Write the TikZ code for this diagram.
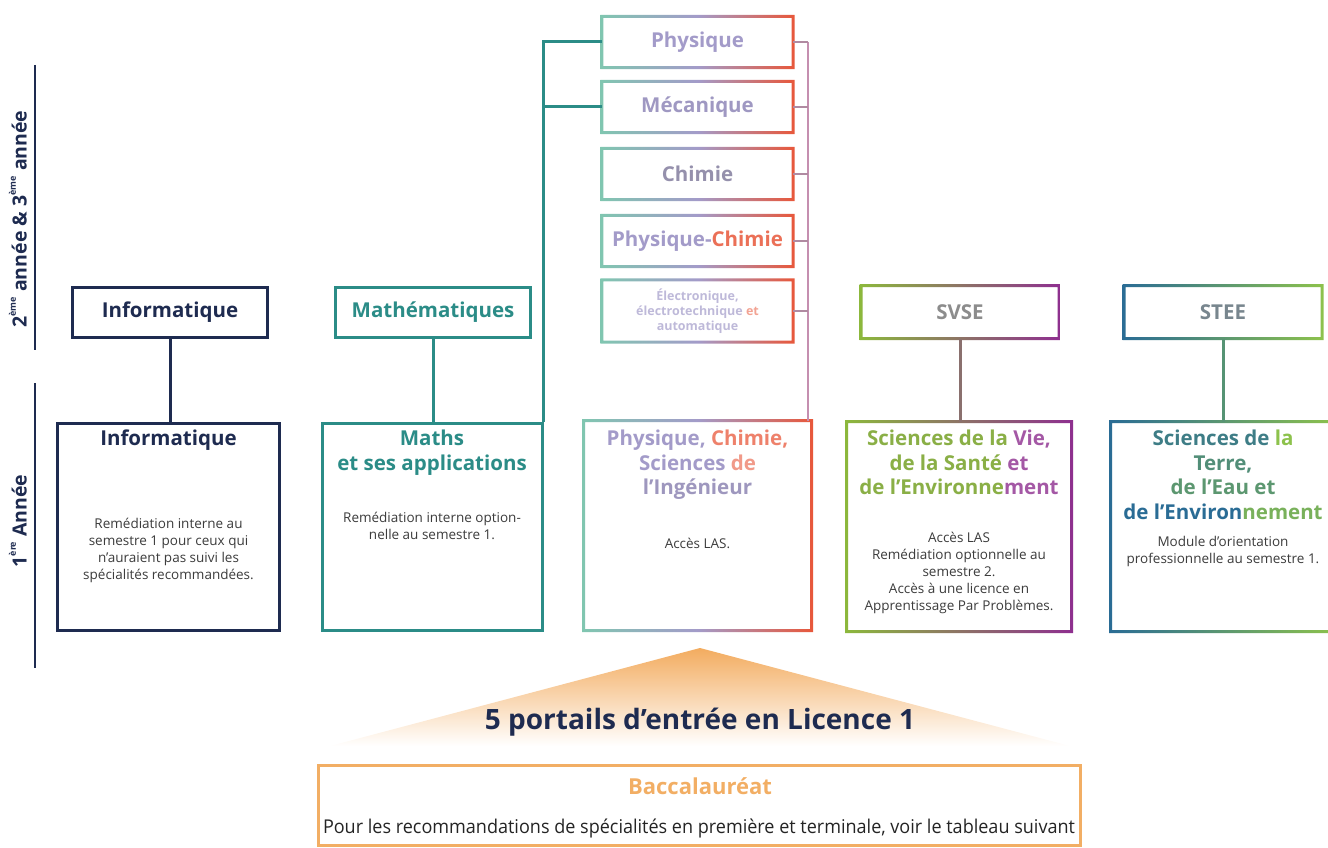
\documentclass[tikz,border=0pt]{standalone}
\usepackage{fontspec}
\setmainfont{Open Sans}
\usepackage{graphicx}
\usetikzlibrary{positioning,calc}

\definecolor{navy}{HTML}{1E2B50}
\definecolor{mathteal}{HTML}{2B8C87}
\definecolor{phgreen}{HTML}{80C6B0}
\definecolor{phlav}{HTML}{A39BC9}
\definecolor{phred}{HTML}{E8573A}
\definecolor{phline}{HTML}{C58FB0}
\definecolor{svgreen}{HTML}{8CB83C}
\definecolor{svpurple}{HTML}{8E2F8F}
\definecolor{stblue}{HTML}{2A6C95}
\definecolor{stgreen}{HTML}{8DC24C}
\definecolor{bacorange}{HTML}{F2AE64}
\definecolor{bodygray}{HTML}{3C3C3C}
\definecolor{titlegray}{HTML}{8C8C8C}

\newcommand\boxtitle{\fontsize{20.5}{24.5}\bfseries\selectfont}
\newcommand\boxbody{\fontsize{13.5}{17}\selectfont}
\newcommand\yrsup[1]{\raisebox{0.55em}{\fontsize{9}{9}\selectfont #1}}

% frame with a colour running from left to right
\newcommand\gradframe[4]{%
  \shade[even odd rule,left color=#2,right color=#4,middle color=#3]
    ([shift={(-1.5,1.5)}]#1.south west) rectangle ([shift={(1.5,-1.5)}]#1.north east)
    ([shift={(1.5,-1.5)}]#1.south west) rectangle ([shift={(-1.5,1.5)}]#1.north east);}

\tikzset{
  boxframe/.style={line width=3pt,inner sep=0pt,fill=white},
  topbox/.style={boxframe,minimum width=195pt,minimum height=50pt,font=\boxtitle},
  lonebox/.style={boxframe,minimum width=222pt,minimum height=207pt},
  physbox/.style={inner sep=0pt,minimum width=191pt,minimum height=51pt,font=\boxtitle},
  ttl/.style={anchor=north,align=center,font=\boxtitle,inner sep=0pt},
  bdy/.style={align=center,font=\boxbody,text=bodygray,inner sep=0pt},
  link/.style={line width=3pt},
  yearlbl/.style={rotate=90,font=\fontsize{19.5}{22}\bfseries\selectfont,text=navy}
}

\begin{document}
\begin{tikzpicture}[x=1pt,y=-1pt]
\useasboundingbox (0,0) rectangle (1328,848);

% years on the left
\draw[navy,line width=2pt] (35,65) -- (35,350);
\node[yearlbl] (yr23) at (18,219) {2\yrsup{ème} année \& 3\yrsup{ème} année};
\draw[navy,line width=2pt] (35,383) -- (35,668);
\node[yearlbl] (yr1) at (18,521) {1\yrsup{ère} Année};

% second and third year
\node[topbox,draw=navy,text=navy] (infotop) at (170,312) {Informatique};
\node[topbox,draw=mathteal,text=mathteal] (mathtop) at (433,312) {Mathématiques};
\node[topbox,text=titlegray] (svsetop) at (960,312) {SVSE};
\node[topbox,text=titlegray!80!stblue] (steetop) at (1223,312) {STEE};

\node[physbox,text=phlav] (physique) at (697.5,42) {Physique};
\node[physbox,text=phlav!90!gray] (meca) at (697.5,107) {Mécanique};
\node[physbox,text=phlav!60!gray] (chimie) at (697.5,174) {Chimie};
\node[physbox] (phch) at (697.5,241) {\textcolor{phlav}{Physique-}\textcolor{phred!85!white}{Chimie}};
\node[physbox,minimum height=62pt,align=center,font=\fontsize{12.5}{15}\bfseries\selectfont,text=phlav!70!white] (elec) at (697.5,311)
  {Électronique,\\électrotechnique \textcolor{phred!55!white}{et}\\automatique};

% first year
\node[lonebox,draw=navy] (info) at (168.5,526.5) {};
\node[lonebox,minimum width=220pt,draw=mathteal] (maths) at (432,526.5) {};
\node[lonebox,minimum width=225pt] (pcsi) at (697.5,525.5) {};
\node[lonebox] (svse) at (959,526.5) {};
\node[lonebox] (stee) at (1223,526.5) {};

\node[ttl,text=navy] (infottl) at (168.5,430) {Informatique};
\node[bdy] (infobdy) at (168.5,550) {Remédiation interne au\\semestre 1 pour ceux qui\\n’auraient pas suivi les\\spécialités recommandées.};
\node[ttl,text=mathteal] (mathsttl) at (432,430) {Maths\\et ses applications};
\node[bdy] (mathsbdy) at (432,526) {Remédiation interne option-\\nelle au semestre 1.};
\node[ttl] (pcsittl) at (697.5,430) {\textcolor{phlav}{Physique,} \textcolor{phred!75!white}{Chimie,}\\
  \textcolor{phlav}{Sciences} \textcolor{phred!60!white}{de}\\\textcolor{phlav!85!gray}{l’Ingénieur}};
\node[bdy] (pcsibdy) at (697.5,543) {Accès LAS.};
\node[ttl] (svsettl) at (959,430) {\textcolor{svgreen!85!gray}{Sciences de la} \textcolor{svpurple!80!white}{Vie,}\\
  \textcolor{svgreen!85!gray}{de la Santé} \textcolor{svpurple!80!white}{et}\\
  \textcolor{svgreen!85!gray}{de l’Environne}\textcolor{svpurple!80!white}{ment}};
\node[bdy] (svsebdy) at (959,573) {Accès LAS\\Remédiation optionnelle au\\semestre 2.\\Accès à une licence en\\Apprentissage Par Problèmes.};
\node[ttl] (steettl) at (1223,430) {\textcolor{stblue!80!stgreen}{Sciences de} \textcolor{stgreen}{la}\\
  \textcolor{stblue!60!stgreen}{Terre,}\\\textcolor{stblue!50!stgreen}{de l’Eau et}\\
  \textcolor{stblue}{de l’Environ}\textcolor{stgreen!80!stblue}{nement}};
\node[bdy] (steebdy) at (1223,551) {Module d’orientation\\professionnelle au semestre 1.};

% gradient frames
\gradframe{phch}{phgreen}{phlav}{phred}
\gradframe{physique}{phgreen}{phlav}{phred}
\gradframe{meca}{phgreen}{phlav}{phred}
\gradframe{chimie}{phgreen}{phlav}{phred}
\gradframe{elec}{phgreen}{phlav}{phred}
\gradframe{pcsi}{phgreen}{phlav}{phred}
\gradframe{svsetop}{svgreen}{svgreen!50!svpurple}{svpurple}
\gradframe{svse}{svgreen}{svgreen!50!svpurple}{svpurple}
\gradframe{steetop}{stblue}{stblue!50!stgreen}{stgreen}
\gradframe{stee}{stblue}{stblue!50!stgreen}{stgreen}

% links between the years
\draw[link,navy] (infotop.south) -- (infotop.south |- info.north);
\draw[link,mathteal] (mathtop.south) -- (mathtop.south |- maths.north);
\draw[link,svgreen!45!svpurple!80!gray] (svsetop.south) -- (svsetop.south |- svse.north);
\draw[link,stblue!55!stgreen] (steetop.south) -- (steetop.south |- stee.north);
\draw[link,mathteal] (maths.north east) |- (physique.west);
\draw[link,mathteal] (maths.north east |- meca.west) -- (meca.west);
\coordinate (rail) at (808,42);
\draw[phline,line width=2pt] (rail) -- (rail |- pcsi.north);
\foreach \b in {physique,meca,chimie,phch,elec}
  \draw[phline!70!gray,line width=2pt] (\b.east) -- (rail |- \b.east);

% entry
\coordinate (apex) at (700,648);
\shade[top color=bacorange!95!orange,bottom color=white] (apex) -- (1070,746) -- (330,746) -- cycle;
\node[font=\fontsize{28}{30}\bfseries\selectfont,text=navy] (portails) at (700,722) {5 portails d’entrée en Licence 1};
\node[draw=bacorange,line width=3pt,minimum width=762pt,minimum height=80pt] (bac) at (699,805) {};
\node[font=\fontsize{22}{24}\bfseries\selectfont,text=bacorange] (bacttl) at (700,786) {Baccalauréat};
\node[font=\fontsize{19}{22}\selectfont,text=bodygray!60!black] (bacbdy) at (699,828)
  {\resizebox{752pt}{\height}{Pour les recommandations de spécialités en première et terminale, voir le tableau suivant}};
\end{tikzpicture}
\end{document}
